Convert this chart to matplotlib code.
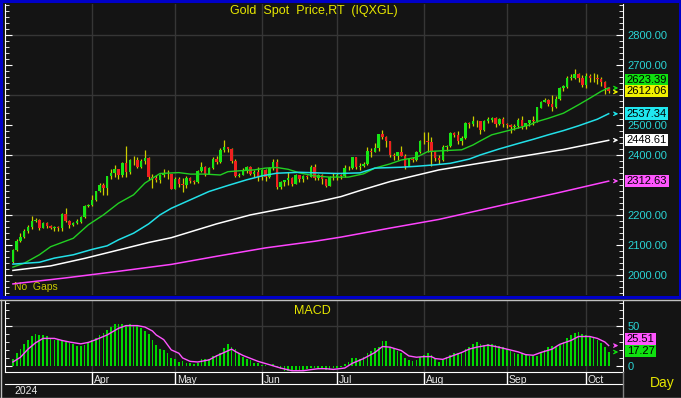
import numpy as np
import pandas as pd
import matplotlib
matplotlib.use("Agg")
import matplotlib.pyplot as plt
from matplotlib.ticker import MultipleLocator, FixedLocator, FormatStrFormatter
from matplotlib.transforms import blended_transform_factory
from matplotlib.patches import Rectangle

plt.rcParams["font.family"] = ["Liberation Sans", "DejaVu Sans"]

# ---- data ----
dates = pd.bdate_range("2024-03-01", "2024-10-09")

opens = [2044, 2083, 2114, 2128, 2148, 2159, 2179, 2182, 2158, 2174, 2162, 2155, 2160, 2157, 2202, 2181, 2165, 2172, 2178, 2194, 2230,
         2233, 2250, 2280, 2300, 2290, 2329, 2339, 2352, 2333, 2372, 2344, 2383, 2383, 2361, 2379, 2391, 2327, 2322, 2316, 2332, 2337, 2335,
         2286, 2320, 2303, 2301, 2323, 2314, 2309, 2346, 2360, 2336, 2358, 2386, 2376, 2415, 2425, 2421, 2379, 2329, 2334, 2350, 2361, 2338, 2343,
         2327, 2350, 2326, 2355, 2375, 2294, 2311, 2316, 2324, 2303, 2333, 2319, 2329, 2328, 2360, 2322, 2334, 2319, 2298, 2327,
         2326, 2332, 2330, 2356, 2356, 2392, 2359, 2364, 2371, 2414, 2411, 2422, 2469, 2459, 2445, 2400, 2396, 2409, 2397, 2364, 2386, 2384, 2411,
         2447, 2446, 2442, 2410, 2390, 2382, 2427, 2431, 2472, 2465, 2447, 2456, 2507, 2504, 2514, 2512, 2484, 2512, 2518, 2524, 2504, 2520,
         2503, 2499, 2493, 2495, 2516, 2497, 2506, 2516, 2512, 2558, 2578, 2582, 2569, 2559, 2586, 2622, 2628, 2657, 2657, 2671, 2658,
         2634, 2662, 2657, 2656, 2653, 2643, 2622]
highs = [2088, 2119, 2141, 2152, 2165, 2195, 2189, 2185, 2175, 2177, 2167, 2164, 2163, 2206, 2222, 2183, 2176, 2185, 2196, 2234, 2236,
         2266, 2281, 2305, 2305, 2331, 2354, 2365, 2354, 2378, 2431, 2385, 2395, 2392, 2386, 2417, 2392, 2335, 2333, 2338, 2353, 2349, 2336,
         2327, 2326, 2323, 2331, 2327, 2318, 2351, 2378, 2364, 2359, 2392, 2398, 2422, 2450, 2428, 2423, 2387, 2339, 2355, 2364, 2362, 2351, 2361,
         2354, 2354, 2360, 2388, 2387, 2314, 2318, 2342, 2327, 2335, 2334, 2333, 2332, 2368, 2369, 2336, 2335, 2320, 2329, 2340,
         2339, 2335, 2365, 2363, 2392, 2393, 2372, 2375, 2425, 2424, 2440, 2469, 2483, 2462, 2446, 2405, 2411, 2431, 2403, 2390, 2394, 2414, 2451,
         2477, 2477, 2460, 2412, 2400, 2432, 2434, 2475, 2477, 2480, 2463, 2509, 2509, 2531, 2515, 2514, 2518, 2528, 2526, 2526, 2524, 2525,
         2505, 2503, 2504, 2523, 2529, 2507, 2517, 2530, 2560, 2581, 2590, 2588, 2600, 2596, 2625, 2634, 2664, 2670, 2685, 2674, 2665,
         2673, 2670, 2672, 2670, 2660, 2645, 2625]
lows = [2039, 2079, 2110, 2124, 2141, 2154, 2176, 2150, 2155, 2157, 2154, 2146, 2146, 2147, 2178, 2157, 2163, 2171, 2174, 2189, 2228,
        2229, 2245, 2275, 2268, 2267, 2321, 2325, 2319, 2326, 2326, 2336, 2365, 2355, 2358, 2370, 2317, 2291, 2309, 2305, 2325, 2321, 2285,
        2285, 2294, 2277, 2291, 2305, 2303, 2306, 2343, 2331, 2340, 2354, 2371, 2374, 2411, 2409, 2373, 2325, 2326, 2333, 2339, 2334, 2327, 2314,
        2315, 2314, 2323, 2350, 2286, 2286, 2298, 2300, 2295, 2302, 2309, 2310, 2320, 2326, 2317, 2315, 2303, 2293, 2297, 2318,
        2318, 2319, 2328, 2351, 2353, 2353, 2351, 2359, 2366, 2392, 2409, 2412, 2452, 2428, 2394, 2384, 2384, 2397, 2353, 2363, 2377, 2379, 2407,
        2435, 2410, 2364, 2380, 2369, 2380, 2414, 2425, 2460, 2438, 2432, 2454, 2489, 2496, 2493, 2470, 2480, 2507, 2510, 2494, 2500, 2493,
        2489, 2472, 2484, 2490, 2485, 2488, 2497, 2500, 2511, 2556, 2576, 2564, 2546, 2555, 2584, 2614, 2624, 2651, 2653, 2642, 2625,
        2624, 2643, 2643, 2637, 2631, 2604, 2605]
closes = [2083, 2114, 2128, 2148, 2159, 2179, 2182, 2158, 2174, 2162, 2155, 2160, 2157, 2202, 2181, 2165, 2172, 2178, 2194, 2230, 2233,
          2250, 2280, 2300, 2290, 2329, 2339, 2352, 2333, 2372, 2344, 2383, 2383, 2361, 2379, 2391, 2327, 2322, 2316, 2332, 2337, 2335, 2286,
          2320, 2303, 2301, 2323, 2314, 2309, 2346, 2360, 2336, 2358, 2386, 2376, 2415, 2425, 2421, 2379, 2329, 2334, 2350, 2361, 2338, 2343, 2327,
          2350, 2326, 2355, 2375, 2294, 2311, 2316, 2324, 2303, 2333, 2319, 2329, 2328, 2360, 2322, 2334, 2319, 2298, 2327, 2326,
          2332, 2330, 2356, 2356, 2392, 2359, 2364, 2371, 2414, 2411, 2422, 2469, 2459, 2445, 2400, 2396, 2409, 2397, 2364, 2386, 2384, 2411, 2447,
          2446, 2442, 2410, 2390, 2382, 2427, 2431, 2472, 2465, 2447, 2456, 2507, 2504, 2514, 2512, 2484, 2512, 2518, 2524, 2504, 2520, 2503,
          2499, 2493, 2495, 2516, 2497, 2506, 2516, 2512, 2558, 2578, 2582, 2569, 2559, 2586, 2622, 2628, 2657, 2657, 2671, 2658, 2634,
          2662, 2657, 2656, 2653, 2643, 2622, 2612.06]

# moving averages, read at sample days
ma20_idx = [0, 3, 7, 10, 16, 20, 24, 28, 32, 35, 39, 44, 47, 51, 55, 57, 60, 64, 67, 70, 73, 76, 80, 84, 89, 93, 96, 100, 103,
            107, 110, 114, 119, 122, 124, 127, 132, 137, 139, 142, 146, 150, 153, 156, 158]
ma20_val = [2026, 2039, 2067, 2094, 2122, 2167, 2200, 2239, 2267, 2306, 2338, 2341, 2336, 2336, 2333, 2344, 2347, 2350, 2356,
            2358, 2352, 2340, 2330, 2326, 2326, 2337, 2356, 2370, 2383, 2392, 2411, 2414, 2417, 2433, 2447, 2467, 2483, 2500,
            2511, 2522, 2539, 2567, 2589, 2612, 2623.39]
ma50_idx = [0, 7, 11, 16, 21, 25, 28, 32, 36, 39, 42, 47, 52, 57, 62, 66, 70, 76, 81, 86, 92, 96, 103, 107, 112, 116, 121,
            124, 129, 134, 138, 142, 146, 150, 155, 158]
ma50_val = [2036, 2042, 2056, 2067, 2085, 2097, 2117, 2139, 2170, 2200, 2222, 2250, 2278, 2298, 2317, 2330, 2339, 2342, 2340,
            2338, 2340, 2356, 2359, 2362, 2367, 2372, 2386, 2400, 2420, 2438, 2452, 2467, 2481, 2497, 2519, 2537.34]
ma100_idx = [0, 10, 19, 28, 36, 42, 54, 63, 72, 81, 87, 92, 100, 113, 129, 146, 158]
ma100_val = [2015, 2030, 2055, 2083, 2108, 2124, 2170, 2200, 2222, 2244, 2261, 2281, 2311, 2350, 2383, 2418, 2448.61]
ma200_idx = [0, 14, 28, 42, 54, 67, 80, 87, 100, 113, 131, 144, 158]
ma200_val = [1970, 1990, 2012, 2035, 2062, 2090, 2112, 2126, 2156, 2185, 2236, 2272, 2312.63]

# MACD histogram, one per day
macd = [8.5, 16, 21, 27, 33, 38, 40.5, 39, 39, 37.5,
        35, 33, 33, 31, 30, 28.6, 27, 25, 25, 26,
        29.5, 32, 35.4, 39, 42, 45.7, 49, 53, 52.5, 53,
        51, 52.5, 51.7, 51, 48, 44, 40, 33, 26, 21,
        20, 16.7, 10, 9, 4.7, 5.5, 3.8, 3.8, 2, 3,
        8, 8, 9, 12.4, 14, 16.7, 21.8, 27.7, 24, 21,
        16.7, 10.7, 9, 7.3, 3.8, 3.8, 1.3, 1.3, -0.4, 2,
        -2, -4, -6.4, -6.4, -7, -7, -6.4, -6.4, -4, -3,
        -3, -3, -3, -5, -5, -3, -3, -2, 2, 4.7,
        10, 10, 9, 10.7, 15.8, 18.4, 21.8, 24, 31, 31,
        24, 21.8, 18.4, 15.8, 10, 7.3, 6.4, 7.3, 10.7, 13,
        16.7, 13, 9, 4.7, 7.3, 10.7, 13, 16.7, 15.8, 15.8,
        21, 24, 27.7, 29.5, 27, 26, 27.7, 27.7, 26, 25,
        24, 21, 19, 16.7, 15, 15, 13, 12.4, 12.4, 12.4,
        16.7, 20, 24, 25, 24, 26, 30, 34.6, 39, 41.4,
        43, 39.7, 39, 37, 35.4, 33, 29, 24, 17.27]
sig_idx = [0, 2, 4, 6, 8, 11, 13, 15, 18, 20, 22, 25, 28, 30, 33, 35, 37, 38, 40, 42, 44, 45, 47, 49, 52, 54, 58, 59, 61, 65,
           68, 71, 74, 77, 79, 81, 83, 85, 88, 90, 93, 96, 98, 100, 103, 105, 107, 109, 111, 112, 114, 116, 119, 121, 123,
           126, 128, 131, 134, 136, 138, 140, 143, 145, 148, 150, 153, 155, 157, 158]
sig_val = [4.7, 10.7, 21, 29, 34.6, 34.6, 32, 30, 27.7, 29.5, 33, 39, 47.4, 50.8, 50.8, 49, 44, 39, 33, 20, 15.8, 9.8, 5.5,
           4.7, 7.3, 12.4, 21, 18, 13, 5.5, 1.3, -3, -6.4, -6.4, -5, -3.8, -3.8, -4.7, -3, 3, 9, 16.7, 24.3, 23.5, 19.2,
           12.4, 10.7, 11.5, 11.5, 9, 8, 11.5, 16.7, 21, 23.5, 26, 24.3, 21, 17.5, 14, 13.2, 16.7, 21, 27, 32, 37, 37,
           34.6, 30, 25.51]

# price labels on the right (2300 and 2600 sit under the value boxes)
price_ticks = [2000, 2100, 2200, 2400, 2500, 2700, 2800]

# ---- styling ----
W, H = 681, 398
BG = "#141414"
GRID = "#363636"
CYAN_TXT = "#2ad4d4"


def rect(x0, y0, x1, y1):
    return [x0 / W, 1 - y1 / H, (x1 - x0) / W, (y1 - y0) / H]


fig = plt.figure(figsize=(W / 100, H / 100), dpi=100, facecolor=BG)
ax = fig.add_axes(rect(5, 4, 623, 295), facecolor=BG)
ax2 = fig.add_axes(rect(5, 301, 623, 372), facecolor=BG, sharex=ax)
ax3 = fig.add_axes(rect(5, 372, 623, 384), facecolor=BG, sharex=ax)

n = len(closes)
idx = np.arange(n)
month_starts = [i for i in range(1, n) if dates[i].month != dates[i - 1].month]

# candles
o = np.array(opens)
c = np.array(closes)
up = c >= o
ax.vlines(idx, lows, highs, color="#cccc00", lw=0.9, zorder=2)
body = np.maximum(np.abs(c - o), 1.5)
ax.bar(idx, body, bottom=np.minimum(o, c), width=0.66,
       color=np.where(up, "#16e616", "#f02020"), zorder=3)

ax.plot(ma20_idx, ma20_val, color="#22d022", lw=1, zorder=4)
ax.plot(ma50_idx, ma50_val, color="#22e0e8", lw=1.1, zorder=4)
ax.plot(ma100_idx, ma100_val, color="#ffffff", lw=1.1, zorder=4)
ax.plot(ma200_idx, ma200_val, color="#ff44ff", lw=1.1, zorder=4)

for g in range(2000, 2801, 200):
    ax.axhline(g, color=GRID, lw=1, zorder=0)
for m in month_starts:
    ax.axvline(m, color=GRID, lw=1, zorder=0)
    ax2.axvline(m, color=GRID, lw=1, zorder=0)

ax.set_xlim(-2.1, 161.8)
ax.set_ylim(1933, 2903)
ax.yaxis.set_major_locator(FixedLocator(price_ticks))
ax.yaxis.set_minor_locator(MultipleLocator(20))
ax.yaxis.set_major_formatter(FormatStrFormatter("%.2f"))
ax.tick_params(axis="y", which="both", direction="in", left=True, right=True,
               labelleft=False, labelright=True, color="white", labelcolor=CYAN_TXT,
               labelsize=8, pad=3)
ax.tick_params(axis="y", which="major", length=5)
ax.tick_params(axis="y", which="minor", length=3)
ax.tick_params(axis="x", which="both", bottom=False, labelbottom=False)
for s in ["top", "bottom"]:
    ax.spines[s].set_visible(False)
for s in ["left", "right"]:
    ax.spines[s].set_color("white")

ax.text(0.5, 0.975, "Gold  Spot  Price,RT  (IQXGL)", transform=ax.transAxes,
        color="#e6e600", fontsize=9, ha="center", va="center")
ax.text(0.014, 0.012, "No  Gaps", transform=ax.transAxes, color="#c8c800",
        fontsize=7.5, ha="left", va="bottom")

# right side value boxes
tr = blended_transform_factory(ax.transAxes, ax.transData)
boxes = [(2650, "2623.39", "#10e010"), (2613, "2612.06", "#f0f000"),
         (2537, "2537.34", "#20e8f0"), (2450, "2448.61", "#ffffff"),
         (2313, "2312.63", "#ff55ff")]
for y, txt, col in boxes:
    ax.text(1.006, y, txt, transform=tr, fontsize=8, color="black", ha="left", va="center",
            bbox=dict(boxstyle="square,pad=0.12", fc=col, ec="none"), clip_on=False)
arrows = [(2623, "#10e010"), (2610, "#f0f000"), (2537, "#20e8f0"), (2449, "#ffffff"), (2313, "#ff55ff")]
for y, col in arrows:
    ax.annotate("", xy=(0.997, y), xytext=(0.982, y), xycoords=tr,
                arrowprops=dict(arrowstyle="->", color=col, lw=0.9, mutation_scale=6))

# MACD panel
ax2.bar(idx, macd, width=0.45, color="#00d800", zorder=2)
ax2.plot(sig_idx, sig_val, color="#ff55ff", lw=1, zorder=3)
ax2.axhline(50, color=GRID, lw=1, zorder=0)
ax2.set_ylim(-8, 82)
ax2.yaxis.set_major_locator(MultipleLocator(50))
ax2.yaxis.set_minor_locator(MultipleLocator(10))
ax2.tick_params(axis="y", which="both", direction="in", left=True, right=True,
                labelleft=False, labelright=True, color="white", labelcolor=CYAN_TXT,
                labelsize=8, pad=3)
ax2.tick_params(axis="y", which="major", length=5)
ax2.tick_params(axis="y", which="minor", length=3)
ax2.tick_params(axis="x", which="both", bottom=False, labelbottom=False)
for s in ["top", "bottom"]:
    ax2.spines[s].set_visible(False)
for s in ["left", "right"]:
    ax2.spines[s].set_color("white")
ax2.text(0.497, 0.86, "MACD", transform=ax2.transAxes, color="#e6e600", fontsize=9,
         ha="center", va="center")
tr2 = blended_transform_factory(ax2.transAxes, ax2.transData)
for y, txt, col in [(34, "25.51", "#ff55ff"), (18.7, "17.27", "#10e010")]:
    ax2.text(1.006, y, txt, transform=tr2, fontsize=8, color="black", ha="left", va="center",
             bbox=dict(boxstyle="square,pad=0.12", fc=col, ec="none"), clip_on=False)
for y, col in [(25.5, "#ff55ff"), (17.3, "#10e010")]:
    ax2.annotate("", xy=(0.997, y), xytext=(0.982, y), xycoords=tr2,
                 arrowprops=dict(arrowstyle="->", color=col, lw=0.9, mutation_scale=6))

# date strip
ax3.set_ylim(0, 1)
ax3.set_xticks([])
ax3.set_yticks([])
for s in ["left", "right"]:
    ax3.spines[s].set_visible(False)
for s in ["top", "bottom"]:
    ax3.spines[s].set_color("white")
for m in month_starts:
    ax3.axvline(m, color="white", lw=1)
    ax3.text(m + 0.5, 0.35, dates[m].strftime("%b"), color="#e8e8e8", fontsize=7.5,
             ha="left", va="center")

fig.text(14 / W, 1 - 391 / H, "2024", color="#e8e8e8", fontsize=7.5, ha="left", va="center")
fig.text(650 / W, 1 - 383 / H, "Day", color="#e6e600", fontsize=10, ha="left", va="center")

# frames
fig.add_artist(Rectangle((1 / W, 1 - 297 / H), 679 / W, 296 / H, transform=fig.transFigure,
                         fill=False, ec="#0000c8", lw=2.2))
fig.add_artist(plt.Line2D([0, 1], [1 - 300 / H] * 2, transform=fig.transFigure, color="#c0c0c0", lw=1))
fig.add_artist(plt.Line2D([0.5 / W] * 2, [0, 1 - 300 / H], transform=fig.transFigure, color="#c0c0c0", lw=1))
fig.add_artist(plt.Line2D([0, 1], [0.5 / H] * 2, transform=fig.transFigure, color="#c0c0c0", lw=1))
fig.add_artist(plt.Line2D([623 / W] * 2, [0, 1 - 372 / H], transform=fig.transFigure, color="#808080", lw=1))

fig.savefig("out.png", dpi=100, facecolor=BG)
